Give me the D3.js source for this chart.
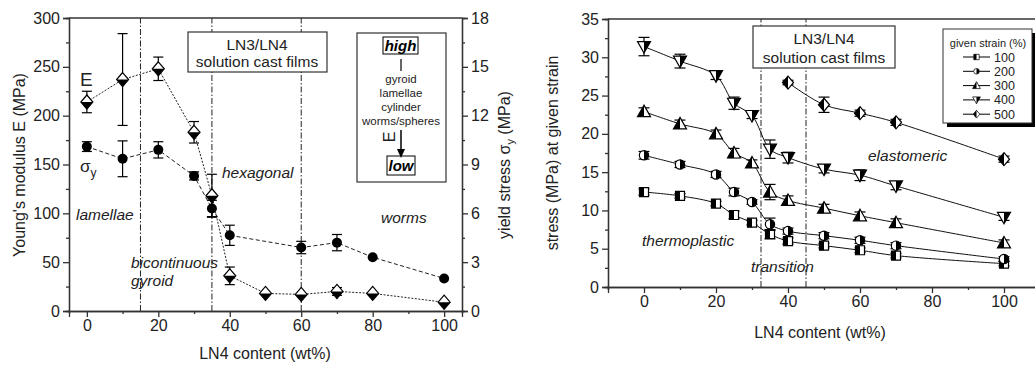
<!DOCTYPE html>
<html>
<head>
<meta charset="utf-8">
<script src="https://cdn.jsdelivr.net/npm/d3@7"></script>
<style>
  body { margin: 0; background: #fff; }
  svg { display: block; font-family: "Liberation Sans", Arial, sans-serif; }
  .axis path, .axis line { stroke: #333; stroke-width: 1.3; }
  .axis text { font-size: 16px; fill: #222; }
</style>
</head>
<body>
<svg id="chart" width="1035" height="365"></svg>
<script>
// ---- left panel data ----
const contentE = [0, 10, 20, 30, 35, 40, 50, 60, 70, 80, 100];
const modulusE = [214, 237, 248, 183, 118, 36, 18, 17, 20, 18, 9];
const modulusErr = [11, 47, 12, 11, 22, 9, 0, 0, 4, 0, 0];

const contentY = [0, 10, 20, 30, 35, 40, 60, 70, 80, 100];
const yieldStress = [10.1, 9.35, 9.9, 8.3, 6.3, 4.65, 3.9, 4.2, 3.3, 2.0];
const yieldErr = [0.3, 1.1, 0.5, 0.25, 0.5, 0.62, 0.38, 0.5, 0, 0];

const phaseBounds = [15, 35, 60];

// ---- right panel data ----
const strainContent = [0, 10, 20, 25, 30, 35, 40, 50, 60, 70, 100];
const stress100 = [12.4, 11.9, 10.9, 9.4, 8.4, 6.9, 6.0, 5.4, 4.8, 4.1, 3.05];
const stress200 = [17.2, 16.0, 14.7, 12.4, 11.1, 8.2, 7.3, 6.7, 6.1, 5.4, 3.65];
const stress300 = [22.9, 21.3, 20.0, 17.5, 16.2, 12.4, 11.3, 10.3, 9.3, 8.4, 5.75];
const stress400 = [31.4, 29.5, 27.6, 24.0, 22.4, 18.0, 16.9, 15.4, 14.6, 13.2, 9.1];
const err100 = [0.4, 0.3, 0.3, 0.5, 0.3, 0.6, 0.4, 0.3, 0.3, 0.3, 0.3];
const err200 = [0.5, 0.4, 0.4, 0.5, 0.3, 0.8, 0.4, 0.4, 0.4, 0.4, 0.3];
const err300 = [0.5, 0.5, 0.5, 0.6, 0.4, 1.0, 0.6, 0.5, 0.5, 0.5, 0.4];
const err400 = [1.2, 0.9, 0.5, 0.8, 0.4, 1.2, 0.7, 0.5, 0.7, 0.5, 0.4];
const content500 = [40, 50, 60, 70, 100];
const stress500 = [26.7, 23.8, 22.7, 21.5, 16.7];
const err500 = [0.3, 1.0, 0.4, 0.4, 0.4];

const strainLabels = ['100', '200', '300', '400', '500'];
const regimeBounds = [32.5, 45];

const svg = d3.select('#chart');

// half-filled markers need clip rectangles in marker-local coords
const defs = svg.append('defs');
[['clip-left', -20, -20, 20, 40], ['clip-right', 0, -20, 20, 40],
 ['clip-top', -20, -20, 40, 20], ['clip-bottom', -20, 0, 40, 20]].forEach(([id, x, y, w, h]) => {
    defs.append('clipPath').attr('id', id)
        .append('rect').attr('x', x).attr('y', y).attr('width', w).attr('height', h);
});

const shapes = {
    diamondL: 'M0,-7L6,0L0,7L-6,0Z',
    diamond: 'M0,-6.5L5.5,0L0,6.5L-5.5,0Z',
    square: 'M-4.5,-4.5H4.5V4.5H-4.5Z',
    circle: d3.symbol(d3.symbolCircle, 68)(),
    triUp: 'M0,-6.5L6.5,5H-6.5Z',
    triDown: 'M0,6.5L6.5,-5H-6.5Z'
};

function drawMarker(g, shape, half) {
    g.append('path').attr('d', shapes[shape]).attr('fill', '#fff')
        .attr('stroke', '#000').attr('stroke-width', 1.2);
    const fill = g.append('path').attr('d', shapes[shape]).attr('fill', '#000');
    if (half) fill.attr('clip-path', `url(#clip-${half})`);
}

function errorBars(layer, xs, ys, errs, x, y, cap) {
    xs.forEach((c, i) => {
        if (!errs[i]) return;
        const px = x(c), y1 = y(ys[i] + errs[i]), y2 = y(ys[i] - errs[i]);
        layer.append('line').attr('x1', px).attr('x2', px).attr('y1', y1).attr('y2', y2)
            .attr('stroke', '#000').attr('stroke-width', 1.2);
        [y1, y2].forEach(yy => layer.append('line')
            .attr('x1', px - cap).attr('x2', px + cap).attr('y1', yy).attr('y2', yy)
            .attr('stroke', '#000').attr('stroke-width', 1.2));
    });
}

function markers(layer, xs, ys, x, y, shape, half) {
    xs.forEach((c, i) => {
        const g = layer.append('g').attr('transform', `translate(${x(c)},${y(ys[i])})`);
        drawMarker(g, shape, half);
    });
}

function minorMajor(g, axisFn, scale, majors, minors, size) {
    g.append('g').attr('class', 'axis').call(axisFn(scale).tickValues(minors).tickSize(size / 2).tickFormat(''));
    g.append('g').attr('class', 'axis').call(axisFn(scale).tickValues(majors).tickSize(size).tickPadding(3));
}

function vline(layer, x, y, v) {
    layer.append('line').attr('x1', x(v)).attr('x2', x(v))
        .attr('y1', y.range()[0]).attr('y2', y.range()[1])
        .attr('stroke', '#222').attr('stroke-width', 1)
        .attr('stroke-dasharray', '6,2,1.5,2');
}

function italicText(layer, x, y, txt, size) {
    layer.append('text').attr('x', x).attr('y', y).attr('font-size', size)
        .attr('font-style', 'italic').attr('fill', '#222').text(txt);
}

function plainText(layer, x, y, txt, size) {
    return layer.append('text').attr('x', x).attr('y', y).attr('text-anchor', 'middle')
        .attr('font-size', size).attr('fill', '#222').text(txt);
}

// ================= LEFT PANEL =================
const xL = d3.scaleLinear().domain([-5, 105]).range([69, 462]);
const yE = d3.scaleLinear().domain([0, 300]).range([311, 18]);
const ySig = d3.scaleLinear().domain([0, 18]).range([311, 18]);

const left = svg.append('g');
phaseBounds.forEach(v => vline(left, xL, yE, v));

// frame top
left.append('line').attr('x1', 69).attr('x2', 462).attr('y1', 18).attr('y2', 18)
    .attr('stroke', '#333').attr('stroke-width', 1.3);

const axL = left.append('g').attr('transform', 'translate(69,0)');
minorMajor(axL, d3.axisLeft, yE, d3.range(0, 301, 50), d3.range(25, 300, 50), 6);
const axR = left.append('g').attr('transform', 'translate(462,0)');
minorMajor(axR, d3.axisRight, ySig, d3.range(0, 19, 3), d3.range(1.5, 18, 3), 6);
const axB = left.append('g').attr('transform', 'translate(0,311)');
minorMajor(axB, d3.axisBottom, xL, d3.range(0, 101, 20), d3.range(10, 101, 20), 6);

// connecting lines
left.append('path')
    .attr('d', d3.line().x((d, i) => xL(contentY[i])).y(d => ySig(d))(yieldStress))
    .attr('fill', 'none').attr('stroke', '#222').attr('stroke-width', 1)
    .attr('stroke-dasharray', '4,2.5');
left.append('path')
    .attr('d', d3.line().x((d, i) => xL(contentE[i])).y(d => yE(d))(modulusE))
    .attr('fill', 'none').attr('stroke', '#222').attr('stroke-width', 1)
    .attr('stroke-dasharray', '2,1.5');

errorBars(left, contentY, yieldStress, yieldErr, xL, ySig, 5);
errorBars(left, contentE, modulusE, modulusErr, xL, yE, 5);
contentY.forEach((c, i) => left.append('circle').attr('cx', xL(c)).attr('cy', ySig(yieldStress[i]))
    .attr('r', 5).attr('fill', '#000'));
markers(left, contentE, modulusE, xL, yE, 'diamondL', 'bottom');

// labels
left.append('text').attr('x', 80).attr('y', 86).attr('font-size', 19).attr('fill', '#222').text('E');
const sig = left.append('text').attr('x', 80).attr('y', 172).attr('font-size', 17).attr('fill', '#222');
sig.append('tspan').text('σ');
sig.append('tspan').attr('font-size', 12).attr('dy', 5).text('y');
italicText(left, 76, 220, 'lamellae', 15.5);
italicText(left, 131, 268, 'bicontinuous', 15.5);
italicText(left, 131, 286, 'gyroid', 15.5);
italicText(left, 222, 178, 'hexagonal', 15.5);
italicText(left, 381, 223, 'worms', 15.5);

// boxes
left.append('rect').attr('x', 188).attr('y', 32).attr('width', 139).attr('height', 40)
    .attr('fill', '#fff').attr('stroke', '#333').attr('stroke-width', 1.2);
plainText(left, 257, 50, 'LN3/LN4', 15.5);
plainText(left, 257, 67, 'solution cast films', 15.5);

left.append('rect').attr('x', 357).attr('y', 33).attr('width', 89).attr('height', 149)
    .attr('fill', '#fff').attr('stroke', '#333').attr('stroke-width', 1.2);
left.append('rect').attr('x', 383).attr('y', 37).attr('width', 35).attr('height', 17)
    .attr('fill', 'none').attr('stroke', '#000').attr('stroke-width', 1);
left.append('text').attr('x', 400.5).attr('y', 51).attr('text-anchor', 'middle').attr('font-size', 15)
    .attr('font-weight', 'bold').attr('font-style', 'italic').text('high');
left.append('line').attr('x1', 401).attr('x2', 401).attr('y1', 59).attr('y2', 71).attr('stroke', '#000').attr('stroke-width', 1.2);
['gyroid', 'lamellae', 'cylinder', 'worms/spheres'].forEach((t, i) =>
    plainText(left, 401, 83 + i * 14, t, 11.5));
left.append('line').attr('x1', 401).attr('x2', 401).attr('y1', 130).attr('y2', 152).attr('stroke', '#000').attr('stroke-width', 1.5);
left.append('path').attr('d', 'M397,149L405,149L401,158Z').attr('fill', '#000');
left.append('text').attr('transform', 'translate(395,137) rotate(-90)').attr('text-anchor', 'middle')
    .attr('font-size', 16).attr('fill', '#222').text('E');
left.append('rect').attr('x', 387).attr('y', 156).attr('width', 28).attr('height', 19)
    .attr('fill', 'none').attr('stroke', '#000').attr('stroke-width', 1);
left.append('text').attr('x', 401).attr('y', 171).attr('text-anchor', 'middle').attr('font-size', 15)
    .attr('font-weight', 'bold').attr('font-style', 'italic').text('low');

// axis titles
left.append('text').attr('transform', 'translate(25,165) rotate(-90)').attr('text-anchor', 'middle')
    .attr('font-size', 16).attr('fill', '#222').text("Young's modulus E (MPa)");
const yt = left.append('text').attr('transform', 'translate(510,165) rotate(-90)').attr('text-anchor', 'middle')
    .attr('font-size', 16).attr('fill', '#222');
yt.append('tspan').text('yield stress σ');
yt.append('tspan').attr('font-size', 11).attr('dy', 4).text('y');
yt.append('tspan').attr('dy', -4).text(' (MPa)');
plainText(left, 265, 359, 'LN4 content (wt%)', 16);

// ================= RIGHT PANEL =================
const xS = d3.scaleLinear().domain([-10, 110]).range([608, 1040]);
const yS = d3.scaleLinear().domain([0, 35]).range([287, 19]);

const right = svg.append('g');
regimeBounds.forEach(v => vline(right, xS, yS, v));
right.append('line').attr('x1', 608).attr('x2', 1040).attr('y1', 19).attr('y2', 19)
    .attr('stroke', '#333').attr('stroke-width', 1.3);

const axSL = right.append('g').attr('transform', 'translate(608,0)');
minorMajor(axSL, d3.axisLeft, yS, d3.range(0, 36, 5), d3.range(2.5, 35, 5), 6);
const axSB = right.append('g').attr('transform', 'translate(0,287)');
minorMajor(axSB, d3.axisBottom, xS, d3.range(0, 101, 20), d3.range(-10, 111, 20), 6);

const series = [
    { xs: strainContent, ys: stress100, errs: err100, shape: 'square', half: 'left' },
    { xs: strainContent, ys: stress200, errs: err200, shape: 'circle', half: 'right' },
    { xs: strainContent, ys: stress300, errs: err300, shape: 'triUp', half: 'left' },
    { xs: strainContent, ys: stress400, errs: err400, shape: 'triDown', half: 'right' },
    { xs: content500, ys: stress500, errs: err500, shape: 'diamond', half: 'left' }
];

const curve = d3.line().curve(d3.curveCatmullRom.alpha(0.5));
series.forEach(s => {
    right.append('path')
        .attr('d', curve(s.xs.map((c, i) => [xS(c), yS(s.ys[i])])))
        .attr('fill', 'none').attr('stroke', '#111').attr('stroke-width', 1);
});
series.forEach(s => {
    errorBars(right, s.xs, s.ys, s.errs, xS, yS, 5.5);
    markers(right, s.xs, s.ys, xS, yS, s.shape, s.half);
});

italicText(right, 642, 246, 'thermoplastic', 15.5);
italicText(right, 751, 272, 'transition', 15.5);
italicText(right, 868, 161, 'elastomeric', 15.5);

right.append('rect').attr('x', 753).attr('y', 26).attr('width', 142).attr('height', 42)
    .attr('fill', '#fff').attr('stroke', '#333').attr('stroke-width', 1.2);
plainText(right, 824, 44, 'LN3/LN4', 15.5);
plainText(right, 824, 63, 'solution cast films', 15.5);

// legend
right.append('rect').attr('x', 947).attr('y', 33).attr('width', 89).attr('height', 94).attr('fill', '#000');
right.append('rect').attr('x', 943).attr('y', 29).attr('width', 89).attr('height', 94)
    .attr('fill', '#fff').attr('stroke', '#333').attr('stroke-width', 1);
plainText(right, 988, 47, 'given strain (%)', 11);
series.forEach((s, i) => {
    const yy = 57 + i * 14.3;
    right.append('line').attr('x1', 963).attr('x2', 990).attr('y1', yy).attr('y2', yy).attr('stroke', '#000').attr('stroke-width', 1);
    const g = right.append('g').attr('transform', `translate(976.5,${yy}) scale(0.6)`);
    drawMarker(g, s.shape, s.half);
    right.append('text').attr('x', 994).attr('y', yy + 4.5).attr('font-size', 12.5).attr('fill', '#222').text(strainLabels[i]);
});

right.append('text').attr('transform', 'translate(558,153) rotate(-90)').attr('text-anchor', 'middle')
    .attr('font-size', 16).attr('fill', '#222').text('stress (MPa) at given strain');
plainText(right, 820, 338, 'LN4 content (wt%)', 16);
</script>
</body>
</html>
